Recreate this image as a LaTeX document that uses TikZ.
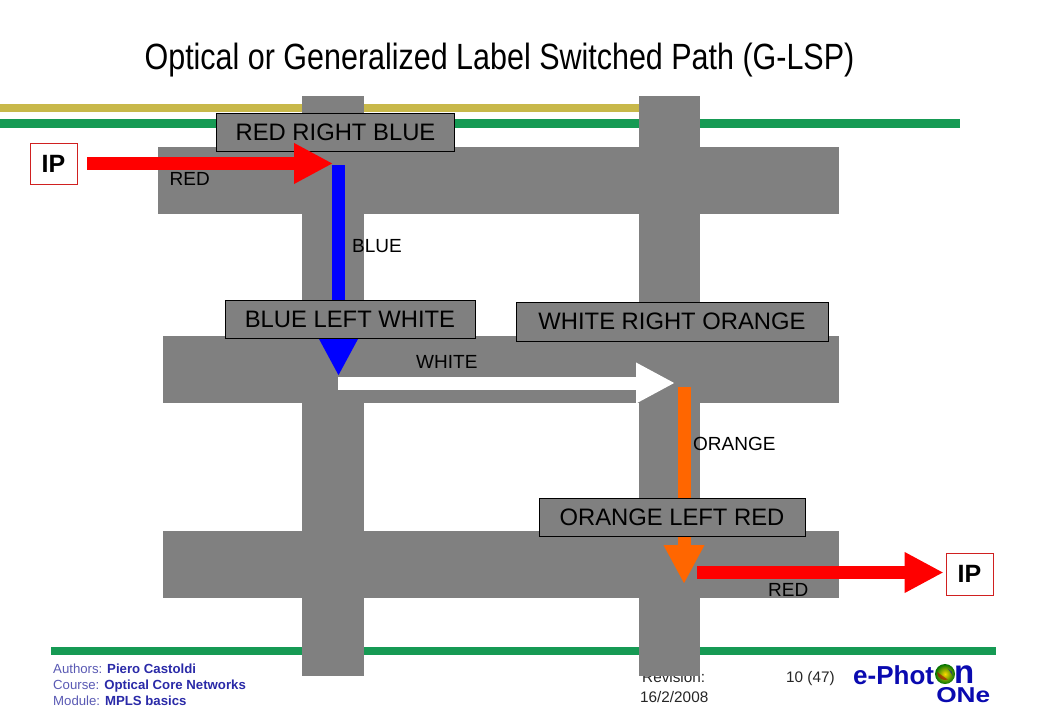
\documentclass[tikz,border=0pt]{standalone}
\usepackage{fontspec}
\setmainfont{Liberation Sans}
\usetikzlibrary{arrows.meta}
\definecolor{gbar}{HTML}{808080}
\definecolor{lgreen}{HTML}{169A54}
\definecolor{lyellow}{HTML}{C8B84A}
\definecolor{authlight}{HTML}{5A5AB4}
\definecolor{authdark}{HTML}{2A2AA8}
\definecolor{logoblue}{HTML}{0A0AB0}
\definecolor{dorange}{HTML}{FF6600}
\definecolor{ipred}{HTML}{D02020}
\tikzset{
  x=1pt,y=-1pt,
  bar/.style={fill=gbar,draw=none},
  fat/.style={line width=13pt,-{Triangle[length=39pt,width=38pt]}},
  swapbox/.style={draw=black,fill=gbar,line width=0.8pt,minimum height=38pt,inner sep=0pt,font=\fontsize{23.8}{28}\selectfont},
  ipbox/.style={draw=ipred,fill=white,line width=0.8pt,inner sep=0pt,font=\bfseries\fontsize{25}{30}\selectfont},
  lab/.style={inner sep=0pt,font=\fontsize{19}{22}\selectfont},
  foot/.style={inner sep=0pt,anchor=base west,font=\fontsize{13.2}{15}\selectfont},
  page/.style={inner sep=0pt,anchor=base west,font=\fontsize{15.3}{18}\selectfont,text=black!85},
  logo/.style={inner sep=0pt,anchor=base west,text=logoblue,font=\bfseries\fontsize{26}{30}\selectfont},
}
\begin{document}
\begin{tikzpicture}
\useasboundingbox (0,0) rectangle (1040,720);
\fill[white] (0,0) rectangle (1040,720);
% title
\node[inner sep=0pt,anchor=base,xscale=0.835] (title) at (499.5,69.5) {\fontsize{36.5}{42}\selectfont Optical or Generalized Label Switched Path (G-LSP)};
% rules
\fill[lyellow] (0,104) rectangle (640,112);
\fill[lgreen] (0,119) rectangle (960,128);
\fill[lgreen] (51,647) rectangle (996,655);
% footer
\node[foot] (auth) at (53,673) {\textcolor{authlight}{Authors: }\textcolor{authdark}{\bfseries Piero Castoldi}};
\node[foot] (course) at (53,689) {\textcolor{authlight}{Course: }\textcolor{authdark}{\bfseries Optical Core Networks}};
\node[foot] (module) at (53,705) {\textcolor{authlight}{Module: }\textcolor{authdark}{\bfseries MPLS basics}};
\node[page] (rev) at (642,682) {Revision:};
\node[page] (date) at (640,702) {16/2/2008};
\node[page] (pg) at (786,682) {10 (47)};
% logo
\node[logo] (ephot) at (853,684) {e-Phot};
\shade[inner color=yellow!70!orange,outer color=green!45!black] (945,674) circle (10);
\fill[red!70!black,opacity=.6] (945,674) ++(-8,-2) arc (180:70:8) -- cycle;
\fill[blue!70!black,opacity=.5] (945,674) ++(8,2) arc (0:-70:8) -- cycle;
\node[logo,font=\bfseries\fontsize{33}{33}\selectfont] (en) at (954,683.5) {n};
\node[logo,font=\bfseries\fontsize{21.5}{22}\selectfont,xscale=1.22] (one) at (936,702) {ONe};
% grey bars
\fill[bar] (302,96) rectangle (364,676);
\fill[bar] (639,96) rectangle (700,676);
\fill[bar] (158,147) rectangle (839,214);
\fill[bar] (163,336) rectangle (839,403);
\fill[bar] (163,531) rectangle (839,598);
% junction points
\coordinate (n1) at (333,163.5);
\coordinate (n1b) at (338.5,165);
\coordinate (n2) at (338.5,376);
\coordinate (n2b) at (338,383);
\coordinate (n3) at (675,383);
\coordinate (n3b) at (684,387);
\coordinate (n4) at (684,584);
\coordinate (n4b) at (697,572.5);
% vertical arrows under the boxes
\draw[fat,blue] (n1b) -- (n2);
\draw[fat,dorange] (n3b) -- (n4);
% boxes
\node[swapbox,minimum width=238pt] (rrb) at (335.5,132) {RED RIGHT BLUE};
\node[swapbox,minimum width=250pt] (blw) at (350,319) {BLUE LEFT WHITE};
\node[swapbox,minimum width=312pt,minimum height=39pt] (wro) at (672,321.5) {WHITE RIGHT ORANGE};
\node[swapbox,minimum width=266pt] (olr) at (672,517) {ORANGE LEFT RED};
\node[ipbox,minimum width=47pt,minimum height=41pt] (ip1) at (53.5,163.5) {IP};
\node[ipbox,minimum width=47pt,minimum height=42pt] (ip2) at (969.5,574) {IP};
% horizontal arrows
\draw[fat,red] ([xshift=10pt]ip1.east) -- (n1);
\draw[fat,white] (n2b) -- (n3);
\draw[fat,red] (n4b) -- ([xshift=-2pt]ip2.west |- n4b);
% labels
\node[lab,anchor=base west] (l1) at (169.5,185) {RED};
\node[lab,anchor=base west] (l2) at (352,252) {BLUE};
\node[lab,anchor=base west] (l3) at (416,368) {WHITE};
\node[lab,anchor=base west] (l4) at (693,450) {ORANGE};
\node[lab,anchor=base west] (l5) at (768,596) {RED};
\end{tikzpicture}
\end{document}
